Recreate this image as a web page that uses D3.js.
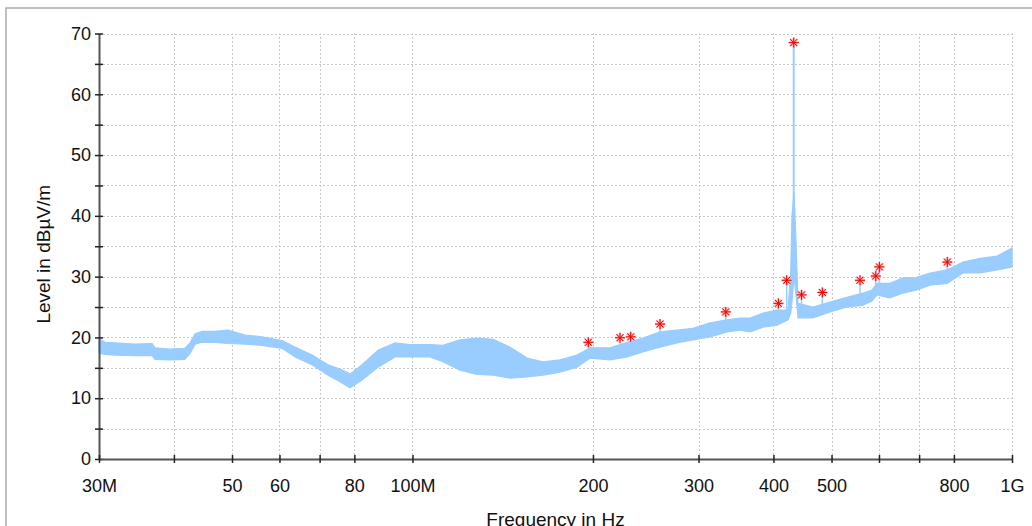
<!DOCTYPE html>
<html>
<head>
<meta charset="utf-8">
<script src="https://cdn.jsdelivr.net/npm/d3@7"></script>
<style>
  body { margin: 0; background: white; font-family: Arial, "Liberation Sans", Helvetica, sans-serif; }
  svg { display: block; }
  .grid line { stroke: #c8c8c8; stroke-width: 1; stroke-dasharray: 2,2; }
  .axis path { stroke: #555; stroke-width: 2; }
  .axis line { stroke: #222; stroke-width: 1.5; }
  .axis text { font-size: 18px; fill: #111; font-family: Arial, "Liberation Sans", sans-serif; }
</style>
</head>
<body>
<svg id="chart"></svg>
<script>
const freqMHz = [30.0, 30.7, 31.9, 34.4, 36.8, 37.2, 39.4, 41.7, 42.5, 43.4, 44.6, 46.8, 49.2, 52.6, 56.1,
  60.6, 63.7, 68.0, 72.3, 75.7, 78.7, 82.4, 87.6, 93.5, 99.8, 107.0, 112.4, 120.0, 128.1, 136.3, 145.5,
  155.3, 165.1, 176.3, 188.1, 197.8, 213.5, 227.9, 242.3, 258.8, 276.2, 293.7, 313.6, 334.7, 351.9, 365.8,
  384.5, 405.6, 423.1, 427.5, 429.6, 432.9, 436.2, 439.7, 465.6, 497.1, 530.6, 564.3, 584.0, 595.4, 625.8,
  658.1, 694.3, 729.9, 779.2, 828.6, 884.8, 944.5, 1000];
const levelLo = [17.4, 17.2, 17.1, 17.0, 17.0, 16.4, 16.3, 16.4, 17.3, 18.9, 19.2, 19.2, 19.0, 18.9, 18.7,
  18.2, 16.8, 15.5, 13.8, 12.7, 11.7, 13.0, 15.1, 16.8, 16.8, 16.8, 16.0, 14.6, 13.9, 13.8, 13.3,
  13.5, 13.8, 14.3, 15.1, 16.6, 16.3, 16.8, 17.6, 18.4, 19.1, 19.6, 20.1, 20.9, 21.2, 20.9,
  21.7, 22.0, 22.9, 24.0, 26.0, 30.0, 27.0, 23.2, 23.2, 24.2, 25.0, 25.3, 26.0, 27.0, 26.5,
  27.3, 27.8, 28.6, 28.9, 30.6, 30.6, 31.1, 31.6];
const levelHi = [19.8, 19.2, 19.1, 18.9, 19.0, 18.3, 18.1, 18.2, 19.0, 20.6, 21.0, 21.0, 21.2, 20.4, 20.1,
  19.5, 18.4, 17.1, 15.5, 14.8, 14.0, 15.5, 17.9, 19.1, 18.8, 18.8, 18.7, 19.6, 19.9, 19.7, 18.4,
  16.6, 16.0, 16.3, 17.1, 18.3, 18.3, 19.2, 19.9, 20.9, 21.2, 21.5, 22.4, 22.9, 23.2, 23.2,
  24.0, 24.5, 24.5, 31.0, 40.0, 44.0, 36.0, 25.6, 25.0, 25.8, 26.6, 27.3, 27.8, 28.9, 28.9,
  29.8, 29.9, 30.6, 31.1, 32.4, 33.0, 33.4, 34.7];

// detected peaks (red markers)
const peakFreq = [196.5, 221.9, 231.2, 258.8, 333.1, 407.7, 420.9, 432.4, 445.6, 482.7, 557.8, 592.6, 600.9, 780.1];
const peakLevel = [19.2, 19.95, 20.1, 22.2, 24.2, 25.6, 29.4, 68.5, 27.0, 27.4, 29.4, 30.1, 31.6, 32.4];

const xTickValues = [30, 40, 50, 60, 70, 80, 100, 200, 300, 400, 500, 600, 700, 800, 1000];
const xLabelValues = [30, 50, 60, 80, 100, 200, 300, 400, 500, 800, 1000];
const xLabelTexts = ["30M", "50", "60", "80", "100M", "200", "300", "400", "500", "800", "1G"];
const yTickValues = [0, 5, 10, 15, 20, 25, 30, 35, 40, 45, 50, 55, 60, 65, 70];
const yLabelValues = [0, 10, 20, 30, 40, 50, 60, 70];

const width = 1032, height = 526;
const svg = d3.select("#chart").attr("width", width).attr("height", height);

// outer frame, runs off the right and bottom edge
svg.append("rect")
  .attr("x", 6).attr("y", 8).attr("width", 1040).attr("height", 540)
  .attr("fill", "white").attr("stroke", "#aaa").attr("stroke-width", 1.5);

const x = d3.scaleLog().domain([30, 1000]).range([99, 1012]);
const y = d3.scaleLinear().domain([0, 70]).range([459, 33.5]);

// grid
const grid = svg.append("g").attr("class", "grid");
grid.selectAll("line.h").data(yTickValues.filter(v => v > 0))
  .enter().append("line")
  .attr("x1", x(30)).attr("x2", x(1000))
  .attr("y1", d => Math.round(y(d)) + 0.5).attr("y2", d => Math.round(y(d)) + 0.5);
grid.selectAll("line.v").data(xTickValues.filter(v => v > 30))
  .enter().append("line")
  .attr("x1", d => Math.round(x(d)) + 0.5).attr("x2", d => Math.round(x(d)) + 0.5)
  .attr("y1", y(0)).attr("y2", y(70));

// trace envelope
const trace = freqMHz.map((f, i) => ({f: f, lo: levelLo[i], hi: levelHi[i]}));
const area = d3.area()
  .x(d => x(d.f))
  .y0(d => y(d.lo))
  .y1(d => y(d.hi));
svg.append("path")
  .datum(trace)
  .attr("d", area)
  .attr("fill", "#99ccff")
  .attr("stroke", "#99ccff")
  .attr("stroke-width", 1.2);

// spikes under the peaks
const bis = d3.bisector(d => d.f).left;
function loAt(f) {
  let i = Math.max(1, Math.min(trace.length - 1, bis(trace, f)));
  let a = trace[i - 1], b = trace[i];
  let t = (Math.log(f) - Math.log(a.f)) / (Math.log(b.f) - Math.log(a.f));
  return a.lo + (b.lo - a.lo) * t;
}
const peaks = peakFreq.map((f, i) => ({f: f, level: peakLevel[i]}));
svg.append("g").selectAll("line").data(peaks).enter().append("line")
  .attr("x1", d => x(d.f)).attr("x2", d => x(d.f))
  .attr("y1", d => y(d.level)).attr("y2", d => y(loAt(d.f)))
  .attr("stroke", "#99ccff")
  .attr("stroke-width", d => d.level > 60 ? 2 : 1.5);

// axes
const yAxis = d3.axisLeft(y).tickValues(yTickValues).tickSize(4).tickSizeOuter(0).tickPadding(4)
  .tickFormat(d => yLabelValues.includes(d) ? d : "");
const gy = svg.append("g").attr("class", "axis").attr("transform", `translate(${x(30)},0)`).call(yAxis);
gy.selectAll(".tick line").attr("x1", 4);

const xAxis = d3.axisBottom(x).tickValues(xTickValues).tickSize(4).tickSizeOuter(0).tickPadding(16)
  .tickFormat(d => {
    let i = xLabelValues.indexOf(d);
    return i >= 0 ? xLabelTexts[i] : "";
  });
const gx = svg.append("g").attr("class", "axis").attr("transform", `translate(0,${y(0)})`).call(xAxis);
gx.selectAll(".tick line").attr("y1", -4);

// peak markers
const r = 5;
const star = `M${-r},0L${r},0M0,${-r}L0,${r}M${-r * 0.7},${-r * 0.7}L${r * 0.7},${r * 0.7}M${-r * 0.7},${r * 0.7}L${r * 0.7},${-r * 0.7}`;
const marks = svg.append("g").selectAll("g").data(peaks).enter().append("g")
  .attr("transform", d => `translate(${x(d.f)},${y(d.level)})`);
marks.append("path").attr("d", star).attr("stroke", "#ffb0b0").attr("stroke-width", 2.2).attr("fill", "none");
marks.append("path").attr("d", star).attr("stroke", "#f00000").attr("stroke-width", 1).attr("fill", "none");

// axis titles
svg.append("text")
  .attr("x", (x(30) + x(1000)) / 2).attr("y", 526)
  .attr("text-anchor", "middle")
  .style("font-size", "19px").style("fill", "#111")
  .text("Frequency in Hz");
svg.append("text")
  .attr("transform", `translate(50,${(y(0) + y(70)) / 2 + 8}) rotate(-90)`)
  .attr("text-anchor", "middle")
  .style("font-size", "19px").style("fill", "#111")
  .text("Level in dBµV/m");
</script>
</body>
</html>
